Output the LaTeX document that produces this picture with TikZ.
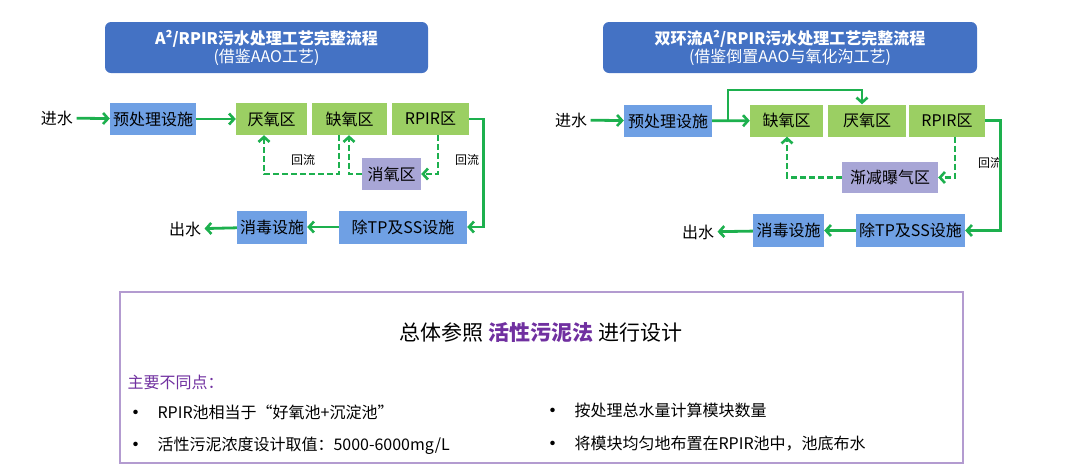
\documentclass[tikz,border=0pt]{standalone}
\usepackage{fontspec}
\setmainfont{Noto Sans CJK SC}
\usepackage{tikz}
\usetikzlibrary{arrows.meta,positioning}
\definecolor{titleblue}{HTML}{4472C4}
\definecolor{boxblue}{HTML}{6FA0E4}
\definecolor{boxgreen}{HTML}{9BCF63}
\definecolor{boxpurple}{HTML}{A8A6D6}
\definecolor{flowgreen}{HTML}{1DB04E}
\definecolor{keypurple}{HTML}{7030A0}
\definecolor{framepurple}{HTML}{B39BD0}

\begin{document}
\begin{tikzpicture}[x=1pt,y=-1pt,
      title_box/.style={
         draw=none,
         fill=titleblue,
         rounded corners=6pt,
         text=white,
         align=center,
         font=\fontsize{16}{18}\selectfont},
      step_box/.style={
         draw=none,
         inner sep=0pt,
         minimum height=32pt,
         font=\fontsize{16}{18}\selectfont},
      blue_box/.style={step_box,fill=boxblue},
      green_box/.style={step_box,fill=boxgreen},
      purple_box/.style={step_box,fill=boxpurple},
      arrow_flow/.style={
        -{Straight Barb[length=5pt,width=11pt,line width=2.6pt]},
        draw=flowgreen,
        line width=2.8pt},
      arrow_back/.style={arrow_flow,dash pattern=on 6pt off 3pt},
      label_txt/.style={font=\fontsize{16}{18}\selectfont},
      small_txt/.style={font=\fontsize{12}{14}\selectfont},
]
      \useasboundingbox (0,0) rectangle (1080,472);

      %left process
      \node[title_box,minimum width=323pt,minimum height=51pt] (tl) at (266.5,47.5)
        {\textbf{A²/RPIR污水处理工艺完整流程}\\(借鉴AAO工艺)};
      \node[label_txt] (inL) at (57,118) {进水};
      \node[blue_box,minimum width=86pt] (preL) at (153,119) {预处理设施};
      \node[green_box,minimum width=71pt] (anaL) at (271.5,119) {厌氧区};
      \node[green_box,minimum width=75pt] (anoL) at (349.5,119) {缺氧区};
      \node[green_box,minimum width=77pt] (rpL) at (430.5,119) {RPIR区};
      \node[purple_box,minimum width=59pt] (deoL) at (391.5,174) {消氧区};
      \node[blue_box,minimum width=70pt,minimum height=33pt] (disL) at (272,227) {消毒设施};
      \node[blue_box,minimum width=128pt,minimum height=33pt] (tpL) at (403,227) {除TP及SS设施};
      \node[label_txt] (outL) at (185,229) {出水};
      \node[small_txt] (r1L) at (303,160) {回流};
      \node[small_txt] (r2L) at (467,160) {回流};

      \draw[arrow_flow] (inL) -- (preL);
      \draw[arrow_flow] (preL) -- (anaL);
      \draw[arrow_flow] (rpL.east) -- ++(14,0) |- (tpL.east);
      \draw[arrow_flow] (tpL) -- (disL);
      \draw[arrow_flow] (disL) -- (outL);
      \draw[arrow_back] (anoL.south -| 339,0) -- (339,174) -| (anaL.south -| 264,0);
      \draw[arrow_back] (deoL.west) -| (anoL.south -| 349,0);
      \draw[arrow_back] (rpL.south -| 438,0) |- (deoL.east);

      %right process
      \node[title_box,minimum width=374pt,minimum height=51pt] (tr) at (790,47.5)
        {\textbf{双环流A²/RPIR污水处理工艺完整流程}\\(借鉴倒置AAO与氧化沟工艺)};
      \node[label_txt] (inR) at (571,120) {进水};
      \node[blue_box,minimum width=88pt] (preR) at (668,121) {预处理设施};
      \node[green_box,minimum width=73pt] (anoR) at (786.5,120.5) {缺氧区};
      \node[green_box,minimum width=78pt] (anaR) at (867,120.5) {厌氧区};
      \node[green_box,minimum width=76pt] (rpR) at (947,120.5) {RPIR区};
      \node[purple_box,minimum width=96pt,minimum height=31pt] (grR) at (890,177.5) {渐减曝气区};
      \node[blue_box,minimum width=71pt,minimum height=33pt] (disR) at (788.5,230.5) {消毒设施};
      \node[blue_box,minimum width=109pt,minimum height=33pt] (tpR) at (910.5,230.5) {除TP及SS设施};
      \node[label_txt] (outR) at (698,232) {出水};
      \node[small_txt] (r1R) at (990,163) {回流};
      \coordinate (split) at (728,121);

      \draw[arrow_flow] (inR) -- (preR);
      \draw[arrow_flow] (preR) -- (anoR);
      \draw[arrow_flow] (split) -- (728,90) -| (anaR.north -| 862,0);
      \draw[arrow_flow] (rpR.east) -- ++(15,0) |- (tpR.east);
      \draw[arrow_flow] (tpR) -- (disR);
      \draw[arrow_flow] (disR) -- (outR);
      \draw[arrow_back] (rpR.south -| 955,0) |- (grR.east);
      \draw[arrow_back] (grR.west) -| (anoR.south -| 787,0);

      %summary
      \node[draw=framepurple,line width=1.2pt,minimum width=843pt,minimum height=171pt] (sum) at (541.5,377.5) {};
      \node[font=\fontsize{21}{24}\selectfont] (head) at (541,333)
        {总体参照 \textcolor{keypurple}{\textbf{活性污泥法}} 进行设计};
      \node[anchor=west,text=keypurple,font=\fontsize{16}{18}\selectfont] (diff) at (124,382) {主要不同点：};
      \foreach \x/\y/\txt in {% x/y/text
        124/412/{RPIR池相当于“好氧池+沉淀池”},
        124/446/{活性污泥浓度设计取值：5000-6000mg/L},
        541/410/{按处理总水量计算模块数量},
        541/444/{将模块均匀地布置在RPIR池中，池底布水}}
        \node[anchor=west,font=\fontsize{16}{18}\selectfont] at (\x,\y) {\textbf{•}\hspace{14pt}\txt};

\end{tikzpicture}
\end{document}
